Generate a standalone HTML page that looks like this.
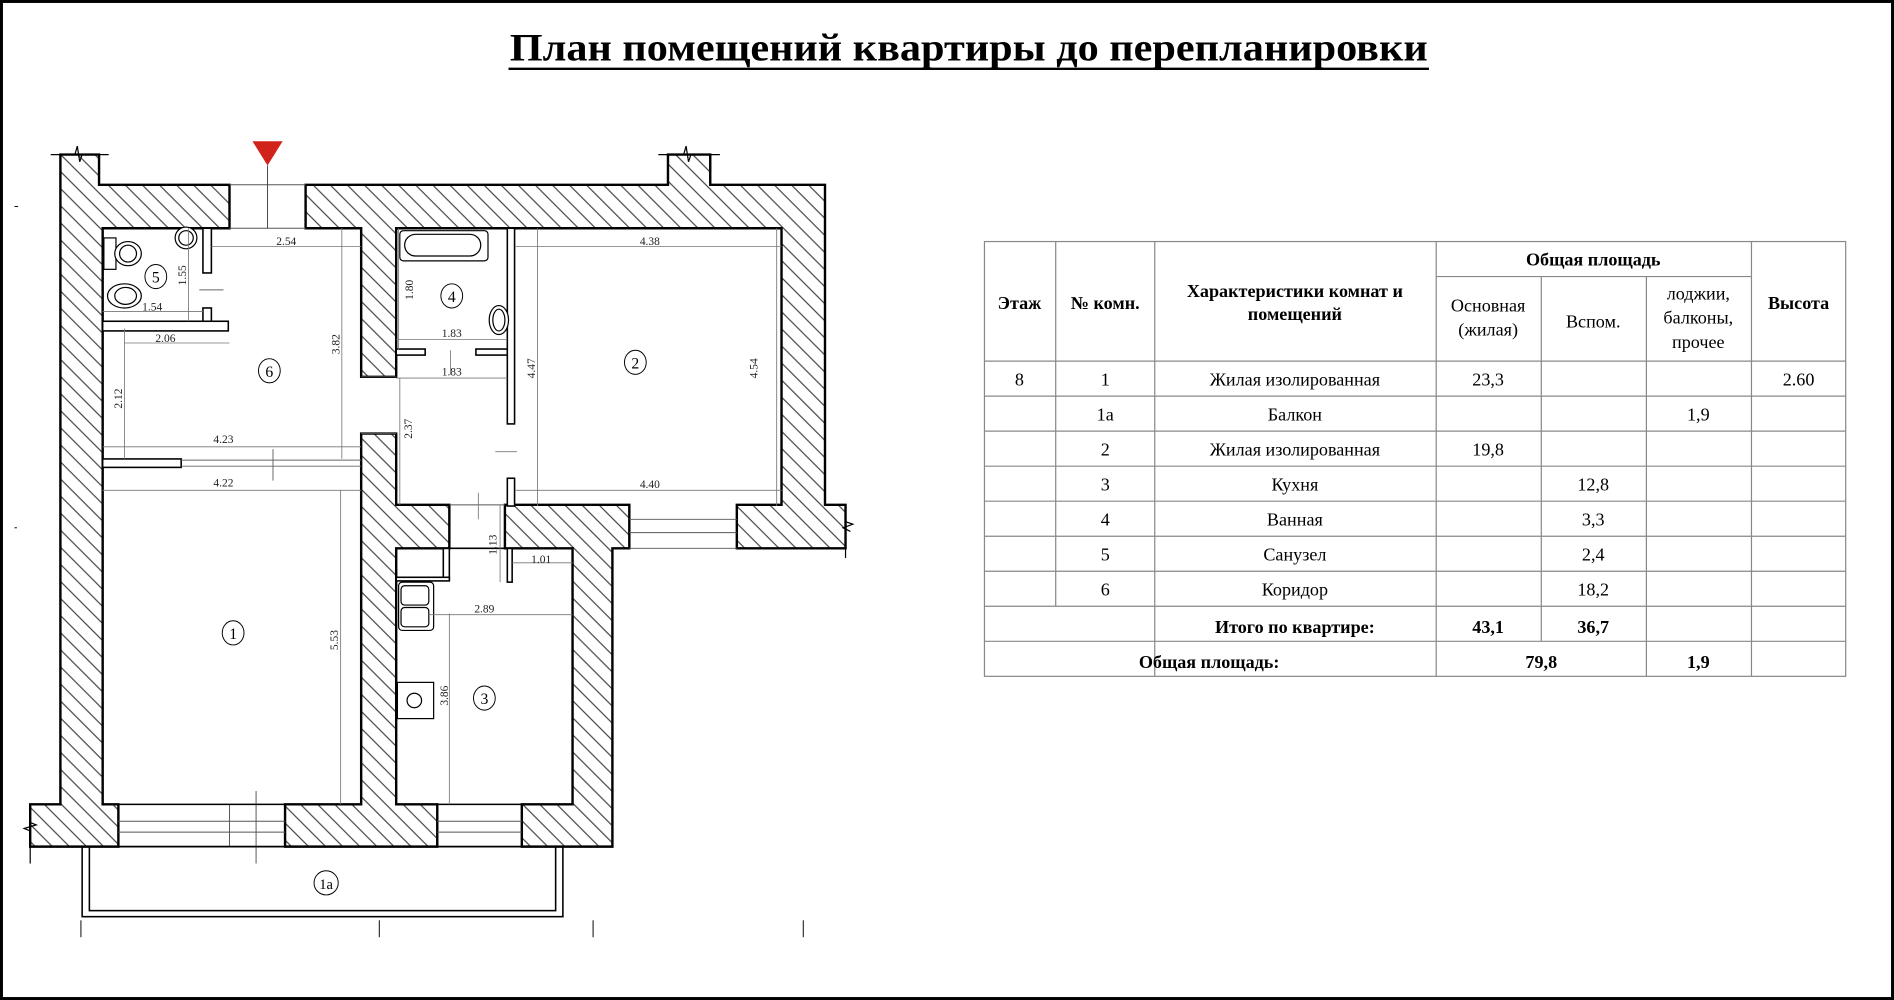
<!DOCTYPE html>
<html><head><meta charset="utf-8"><style>
html,body{margin:0;padding:0;background:#fff}
svg{display:block}
</style></head><body>
<svg width="1894" height="1000" viewBox="0 0 1568 828" preserveAspectRatio="none" xmlns="http://www.w3.org/2000/svg" font-family="'Liberation Serif', serif">
<defs>
<pattern id="h" patternUnits="userSpaceOnUse" width="10" height="10" patternTransform="rotate(-45)">
<rect width="10" height="10" fill="#fff"/><line x1="5" y1="0" x2="5" y2="10" stroke="#333" stroke-width="0.9"/>
</pattern>
</defs>
<rect x="1.2" y="1.2" width="1565.6" height="825.6" fill="#fff" stroke="#000" stroke-width="2.5"/>
<text x="802" y="50" font-size="32" font-weight="bold" text-anchor="middle" textLength="760" lengthAdjust="spacingAndGlyphs">План помещений квартиры до перепланировки</text>
<line x1="421" y1="57" x2="1183" y2="57" stroke="#000" stroke-width="2"/>

<g fill="url(#h)" stroke="#000" stroke-width="2" stroke-linejoin="miter">
<polygon points="50,128 82,128 82,153 190,153 190,189 85,189 85,666 98,666 98,701 25,701 25,666 50,666"/>
<polygon points="253,153 553,153 553,128 588,128 588,153 683,153 683,418 700,418 700,454 610,454 610,418 647,418 647,189 328,189 328,312 299,312 299,189 253,189"/>
<polygon points="299,359 328,359 328,418 372,418 372,454 328,454 328,666 362,666 362,701 236,701 236,666 299,666"/>
<polygon points="418,418 521,418 521,454 507,454 507,701 432,701 432,666 474,666 474,454 418,454"/>
</g>
<g stroke="#000" stroke-width="1" fill="none">
<polyline points="42,128 62,128 64,121 66,134 68,128 90,128"/>
<polyline points="545,128 566,128 568,121 570,134 572,128 596,128"/>
<polyline points="25,688 20,686 30,683 25,681 25,666"/>
<polyline points="700,432 706,434 698,437 704,440"/>
<line x1="25" y1="701" x2="25" y2="715"/>
<line x1="700" y1="418" x2="700" y2="462"/>
</g>
<g stroke="#555" stroke-width="0.8" fill="none">
<line x1="190" y1="153" x2="253" y2="153"/><line x1="190" y1="189" x2="253" y2="189"/>
<line x1="521" y1="430" x2="610" y2="430"/><line x1="521" y1="441" x2="610" y2="441"/><line x1="521" y1="454" x2="610" y2="454"/>
<line x1="98" y1="666" x2="236" y2="666"/><line x1="98" y1="680" x2="236" y2="680"/><line x1="98" y1="689" x2="236" y2="689"/><line x1="98" y1="701" x2="236" y2="701"/>
<line x1="362" y1="666" x2="432" y2="666"/><line x1="362" y1="680" x2="432" y2="680"/><line x1="362" y1="689" x2="432" y2="689"/><line x1="362" y1="701" x2="432" y2="701"/>
<line x1="190" y1="666" x2="190" y2="701"/><line x1="212" y1="655" x2="212" y2="715"/>
<line x1="299" y1="312" x2="328" y2="312"/><line x1="299" y1="359" x2="328" y2="359"/>
<line x1="372" y1="418" x2="418" y2="418"/>
</g>
<g fill="#fff" stroke="#000" stroke-width="1.3">
<rect x="85" y="380" width="65" height="7"/>
<rect x="168" y="189" width="7" height="37"/>
<rect x="168" y="255" width="7" height="12"/>
<rect x="85" y="266" width="104" height="8"/>
<rect x="328" y="289" width="24" height="5"/>
<rect x="394" y="289" width="26" height="5"/>
<rect x="420" y="189" width="6" height="162"/>
<rect x="420" y="396" width="6" height="23"/>
<rect x="367" y="454" width="5" height="26"/>
<rect x="328" y="478" width="44" height="3"/>
<rect x="420" y="454" width="4" height="28"/>
<line x1="85" y1="666" x2="299" y2="666"/>
<line x1="328" y1="666" x2="474" y2="666"/>
<line x1="328" y1="454" x2="474" y2="454"/>
</g>
<g stroke="#666" stroke-width="0.8">
<line x1="150" y1="381" x2="299" y2="381"/><line x1="150" y1="386" x2="299" y2="386"/>
<line x1="226" y1="372" x2="226" y2="398"/>
<line x1="165" y1="240" x2="185" y2="240"/>
</g>
<polygon points="209,117 234,117 221.5,137" fill="#d2231a"/>
<line x1="221.5" y1="137" x2="221.5" y2="189" stroke="#444" stroke-width="0.8"/>
<rect x="68" y="701" width="398" height="58" fill="none" stroke="#000" stroke-width="1.3"/>
<rect x="74" y="701" width="386" height="53" fill="none" stroke="#000" stroke-width="1.3"/>
<g stroke="#000" stroke-width="0.8">
<line x1="67" y1="762" x2="67" y2="776"/><line x1="314" y1="762" x2="314" y2="776"/><line x1="491" y1="762" x2="491" y2="776"/><line x1="665" y1="762" x2="665" y2="776"/>
<line x1="12" y1="171" x2="15" y2="171"/><line x1="12" y1="437" x2="14" y2="437"/>
</g>
<g fill="#fff" stroke="#000" stroke-width="1">
<rect x="86" y="197" width="10" height="26"/>
<ellipse cx="106" cy="210" rx="11" ry="10"/><ellipse cx="106" cy="210" rx="7" ry="7"/>
<ellipse cx="103" cy="245" rx="14" ry="10"/><ellipse cx="104" cy="245" rx="9" ry="7"/>
<circle cx="154" cy="197" r="9"/><circle cx="154" cy="197" r="6"/>
<rect x="331" y="191" width="73" height="25" rx="3"/>
<rect x="335" y="194" width="63" height="18" rx="9"/>
<ellipse cx="413" cy="265" rx="8" ry="12"/><ellipse cx="413" cy="265" rx="5" ry="9"/>
<rect x="330" y="482" width="29" height="40" rx="3"/>
<rect x="332" y="485" width="23" height="16" rx="3"/><rect x="332" y="503" width="23" height="16" rx="3"/>
<rect x="329" y="565" width="30" height="30"/><circle cx="343" cy="580" r="6"/>
</g>
<g stroke="#777" stroke-width="0.7" fill="none">
<line x1="175" y1="204" x2="299" y2="204"/>
<line x1="427" y1="204" x2="647" y2="204"/>
<line x1="156" y1="189" x2="156" y2="266"/>
<line x1="85" y1="258" x2="168" y2="258"/>
<line x1="103" y1="284" x2="190" y2="284"/>
<line x1="283" y1="189" x2="283" y2="380"/>
<line x1="103" y1="272" x2="103" y2="380"/>
<line x1="85" y1="370" x2="299" y2="370"/>
<line x1="85" y1="406" x2="299" y2="406"/>
<line x1="330" y1="189" x2="330" y2="290"/>
<line x1="328" y1="281" x2="420" y2="281"/>
<line x1="328" y1="313" x2="420" y2="313"/>
<line x1="373" y1="290" x2="373" y2="310"/>
<line x1="445" y1="189" x2="445" y2="419"/>
<line x1="643" y1="189" x2="643" y2="419"/>
<line x1="331" y1="313" x2="331" y2="418"/>
<line x1="427" y1="406" x2="647" y2="406"/>
<line x1="282" y1="406" x2="282" y2="666"/>
<line x1="414" y1="418" x2="414" y2="482"/>
<line x1="424" y1="466" x2="474" y2="466"/>
<line x1="355" y1="509" x2="474" y2="509"/>
<line x1="372" y1="508" x2="372" y2="666"/>
<line x1="410" y1="374" x2="428" y2="374"/>
<line x1="396" y1="408" x2="396" y2="430"/>
</g>
<g font-size="9.5" fill="#222">
<text x="237" y="203" text-anchor="middle">2.54</text>
<text x="538" y="203" text-anchor="middle">4.38</text>
<text x="126" y="257" text-anchor="middle">1.54</text>
<text x="137" y="283" text-anchor="middle">2.06</text>
<text x="185" y="367" text-anchor="middle">4.23</text>
<text x="185" y="403" text-anchor="middle">4.22</text>
<text x="374" y="279" text-anchor="middle">1.83</text>
<text x="374" y="311" text-anchor="middle">1.83</text>
<text x="538" y="404" text-anchor="middle">4.40</text>
<text x="448" y="466" text-anchor="middle">1.01</text>
<text x="401" y="507" text-anchor="middle">2.89</text>
<text transform="translate(154,228) rotate(-90)" text-anchor="middle">1.55</text>
<text transform="translate(281,285) rotate(-90)" text-anchor="middle">3.82</text>
<text transform="translate(101,330) rotate(-90)" text-anchor="middle">2.12</text>
<text transform="translate(342,240) rotate(-90)" text-anchor="middle">1.80</text>
<text transform="translate(443,305) rotate(-90)" text-anchor="middle">4.47</text>
<text transform="translate(627,305) rotate(-90)" text-anchor="middle">4.54</text>
<text transform="translate(341,355) rotate(-90)" text-anchor="middle">2.37</text>
<text transform="translate(280,530) rotate(-90)" text-anchor="middle">5.53</text>
<text transform="translate(411,451) rotate(-90)" text-anchor="middle">1.13</text>
<text transform="translate(371,576) rotate(-90)" text-anchor="middle">3.86</text>
</g>
<g fill="none" stroke="#000" stroke-width="0.8">
<ellipse cx="129" cy="229" rx="9" ry="10"/>
<ellipse cx="374" cy="245" rx="9" ry="10"/>
<ellipse cx="223" cy="307" rx="9" ry="10"/>
<ellipse cx="526" cy="300" rx="9" ry="10"/>
<ellipse cx="193" cy="524" rx="9" ry="10"/>
<ellipse cx="401" cy="578" rx="9" ry="10"/>
<ellipse cx="270" cy="731" rx="10" ry="10"/>
</g>
<g font-size="13" text-anchor="middle">
<text x="129" y="234">5</text><text x="374" y="250">4</text><text x="223" y="312">6</text>
<text x="526" y="305">2</text><text x="193" y="529">1</text><text x="401" y="583">3</text>
<text x="270" y="736" font-size="12">1a</text>
</g>

<g stroke="#888" stroke-width="1" fill="none">
<rect x="815" y="200" width="713" height="360"/>
<line x1="874" y1="200" x2="874" y2="502"/>
<line x1="956" y1="200" x2="956" y2="560"/>
<line x1="1189" y1="229" x2="1189" y2="560"/>
<line x1="1189" y1="200" x2="1189" y2="229"/>
<line x1="1276" y1="229" x2="1276" y2="531"/>
<line x1="1363" y1="229" x2="1363" y2="560"/>
<line x1="1450" y1="200" x2="1450" y2="560"/>
<line x1="1189" y1="229" x2="1450" y2="229"/>
<line x1="815" y1="299" x2="1528" y2="299"/>
<line x1="815" y1="328" x2="1528" y2="328"/>
<line x1="815" y1="357" x2="1528" y2="357"/>
<line x1="815" y1="386" x2="1528" y2="386"/>
<line x1="815" y1="415" x2="1528" y2="415"/>
<line x1="815" y1="444" x2="1528" y2="444"/>
<line x1="815" y1="473" x2="1528" y2="473"/>
<line x1="815" y1="502" x2="1528" y2="502"/>
<line x1="815" y1="531" x2="1528" y2="531"/>
</g>
<g font-size="15" text-anchor="middle" fill="#000">
<g font-weight="bold">
<text x="1319" y="220">Общая площадь</text>
<text x="844" y="256">Этаж</text>
<text x="915" y="256">№ комн.</text>
<text x="1072" y="246">Характеристики комнат и</text>
<text x="1072" y="265">помещений</text>
<text x="1489" y="256">Высота</text>
<text x="1072" y="524">Итого по квартире:</text>
<text x="1232" y="524">43,1</text>
<text x="1319" y="524">36,7</text>
<text x="1001" y="553">Общая площадь:</text>
<text x="1276" y="553">79,8</text>
<text x="1406" y="553">1,9</text>
</g>
<text x="1232" y="258">Основная</text>
<text x="1232" y="278">(жилая)</text>
<text x="1319" y="271">Вспом.</text>
<text x="1406" y="248">лоджии,</text>
<text x="1406" y="268">балконы,</text>
<text x="1406" y="288">прочее</text>
<text x="844" y="319">8</text><text x="915" y="319">1</text><text x="1072" y="319">Жилая изолированная</text><text x="1232" y="319">23,3</text><text x="1489" y="319">2.60</text>
<text x="915" y="348">1a</text><text x="1072" y="348">Балкон</text><text x="1406" y="348">1,9</text>
<text x="915" y="377">2</text><text x="1072" y="377">Жилая изолированная</text><text x="1232" y="377">19,8</text>
<text x="915" y="406">3</text><text x="1072" y="406">Кухня</text><text x="1319" y="406">12,8</text>
<text x="915" y="435">4</text><text x="1072" y="435">Ванная</text><text x="1319" y="435">3,3</text>
<text x="915" y="464">5</text><text x="1072" y="464">Санузел</text><text x="1319" y="464">2,4</text>
<text x="915" y="493">6</text><text x="1072" y="493">Коридор</text><text x="1319" y="493">18,2</text>
</g>
</svg>
</body></html>
